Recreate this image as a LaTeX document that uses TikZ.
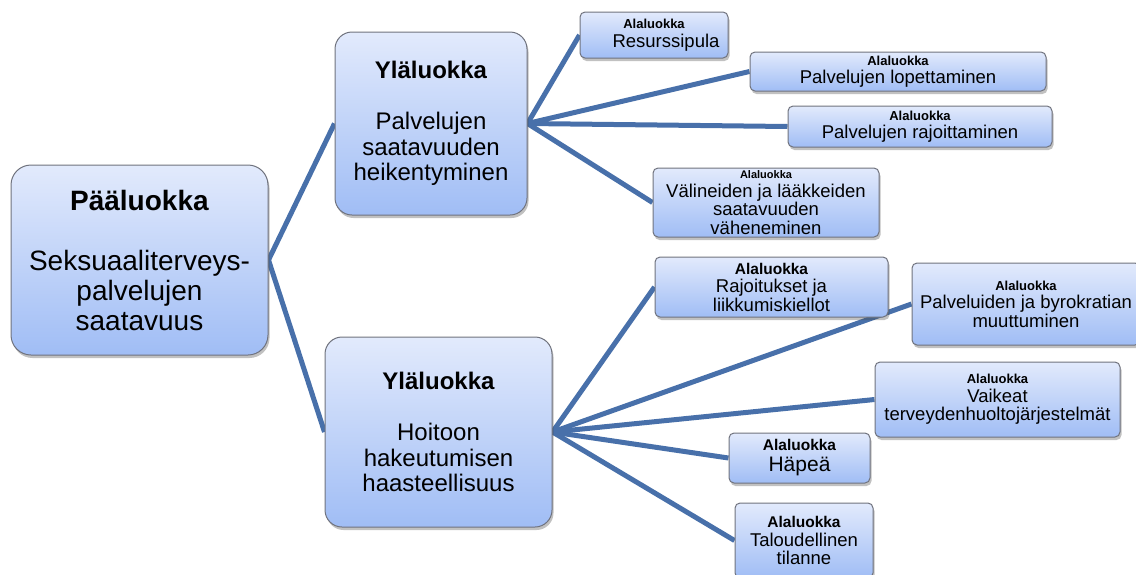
\documentclass[tikz,border=0pt]{standalone}
\usepackage{fontspec}
\setmainfont{Liberation Sans}
\usetikzlibrary{shadows}
\pgfdeclarelayer{background}
\pgfsetlayers{background,main}
\definecolor{boxtop}{RGB}{226,234,252}
\definecolor{boxbot}{RGB}{160,189,245}
\definecolor{boxline}{RGB}{112,115,126}
\definecolor{conn}{RGB}{72,112,170}
\begin{document}
\begin{tikzpicture}[x=1pt,y=-1pt,
  box/.style={rectangle, draw=boxline, line width=1pt, top color=boxtop, bottom color=boxbot,
    align=center, inner sep=0pt,
    drop shadow={shadow xshift=1.5pt, shadow yshift=-3pt, opacity=0.35, fill=black!70}},
  bigbox/.style={box, rounded corners=20pt, font=\fontsize{28}{30}\selectfont},
  midbox/.style={box, rounded corners=17pt, font=\fontsize{24}{25.5}\selectfont},
  smallbox/.style={box, rounded corners=5pt, font=\fontsize{18.5}{18.5}\selectfont},
  link/.style={draw=conn, line width=5pt},
]
\useasboundingbox (0,0) rectangle (1136,574);
\clip (0,0) rectangle (1136,574);

% main category
\node[bigbox, minimum width=257pt, minimum height=190pt] (main) at (139.5,260)
  {\textbf{Pääluokka}\\[30pt]Seksuaaliterveys-\\palvelujen\\saatavuus};

% upper categories
\node[midbox, minimum width=192pt, minimum height=183pt] (up) at (431,123.5)
  {\textbf{Yläluokka}\\[25.5pt]Palvelujen\\saatavuuden\\heikentyminen};
\node[midbox, minimum width=227pt, minimum height=190pt] (low) at (438.5,432)
  {\textbf{Yläluokka}\\[25.5pt]Hoitoon\\hakeutumisen\\haasteellisuus};

% subcategories of the upper one
\node[smallbox, minimum width=148pt, minimum height=46pt] (res) at (654,35)
  {{\fontsize{13}{13}\selectfont\bfseries Alaluokka}\\\hspace*{24pt}Resurssipula};
\node[smallbox, minimum width=296pt, minimum height=39pt] (lop) at (898,71.5)
  {{\fontsize{13}{13}\selectfont\bfseries Alaluokka}\\Palvelujen lopettaminen};
\node[smallbox, minimum width=264pt, minimum height=41pt] (raj) at (920,126.5)
  {{\fontsize{13}{13}\selectfont\bfseries Alaluokka}\\Palvelujen rajoittaminen};
\node[smallbox, minimum width=226pt, minimum height=69pt] (val) at (766,202.5)
  {{\fontsize{11}{11}\selectfont\bfseries Alaluokka}\\Välineiden ja lääkkeiden\\saatavuuden\\väheneminen};

% subcategories of the lower one
\node[smallbox, minimum width=233pt, minimum height=60pt] (rajo) at (771.5,287)
  {{\fontsize{15.5}{15.5}\selectfont\bfseries Alaluokka}\\Rajoitukset ja\\liikkumiskiellot};
\node[smallbox, minimum width=228pt, minimum height=82pt] (palv) at (1026,304)
  {{\fontsize{13}{13}\selectfont\bfseries Alaluokka}\\Palveluiden ja byrokratian\\muuttuminen};
\node[smallbox, minimum width=245pt, minimum height=75pt] (vaik) at (997.5,399.5)
  {{\fontsize{13}{13}\selectfont\bfseries Alaluokka}\\Vaikeat\\terveydenhuoltojärjestelmät};
\node[smallbox, minimum width=141pt, minimum height=50pt, font=\fontsize{21}{21}\selectfont] (hap) at (799.5,458)
  {{\fontsize{15.5}{15.5}\selectfont\bfseries Alaluokka}\\Häpeä};
\node[smallbox, minimum width=138pt, minimum height=75pt] (tal) at (804,540.5)
  {{\fontsize{15.5}{15.5}\selectfont\bfseries Alaluokka}\\Taloudellinen\\tilanne};

\begin{pgfonlayer}{background}
\draw[link] (main.east) -- (up.west);
\draw[link] (main.east) -- (low.west);
\draw[link] (up.east) -- (res.west);
\draw[link] (up.east) -- (lop.west);
\draw[link] (up.east) -- (raj.west);
\draw[link] (up.east) -- (val.west);
\draw[link] (low.east) -- (rajo.west);
\draw[link] (low.east) -- (palv.west);
\draw[link] (low.east) -- (vaik.west);
\draw[link] (low.east) -- (hap.west);
\draw[link] (low.east) -- (tal.west);
\end{pgfonlayer}
\end{tikzpicture}
\end{document}
